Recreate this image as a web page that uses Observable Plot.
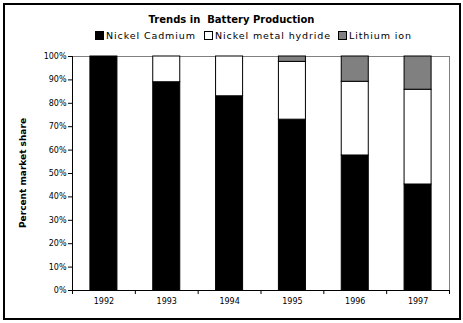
<!DOCTYPE html>
<html><head><meta charset="utf-8">
<script src="https://cdn.jsdelivr.net/npm/d3@7"></script>
<script src="https://cdn.jsdelivr.net/npm/@observablehq/plot@0.6"></script>
<style>
body{margin:0;background:#fff}
#wrap{position:relative;width:463px;height:323px;overflow:hidden;font-family:"DejaVu Sans",sans-serif;color:#000}
#frame{position:absolute;left:3px;top:3px;width:454px;height:313px;border:2px solid #000;pointer-events:none}
#title{position:absolute;left:0;width:463px;top:14px;text-align:center;font-weight:bold;font-size:10px;white-space:pre}
.leg{position:absolute;top:29px;height:12px;font-size:9.5px;letter-spacing:0.9px;display:flex;align-items:center;white-space:pre}
.sw{display:inline-block;width:7px;height:7px;border:1px solid #000;margin-right:2px}
#ytitle{position:absolute;left:23px;top:173px;transform:translate(-50%,-50%) rotate(-90deg);font-weight:bold;font-size:9px;white-space:nowrap}
</style></head><body><div id="wrap"></div>
<script>
const years = [1992, 1993, 1994, 1995, 1996, 1997];
const seriesNames = ["Nickel Cadmium", "Nickel metal hydride", "Lithium ion"];
const nickelCadmium = [100, 89, 83, 73, 57.7, 45.3];
const nickelMetalHydride = [0, 11, 17, 24.7, 31.5, 40.5];
const lithiumIon = [0, 0, 0, 2.3, 10.8, 14.2];
const seriesColors = ["#000000", "#ffffff", "#808080"];
const yTicks = [0, 10, 20, 30, 40, 50, 60, 70, 80, 90, 100];
const titleText = "Trends in  Battery Production";
const yTitle = "Percent market share";

const seriesArrays = [nickelCadmium, nickelMetalHydride, lithiumIon];
const rows = [];
years.forEach((yr, i) => seriesArrays.forEach((arr, j) => {
  if (arr[i] > 0) rows.push({year: yr, type: seriesNames[j], value: arr[i]});
}));
const boundaries = [...years.map(y => y - 0.5), years[years.length - 1] + 0.5];
const half = 0.215;

const chart = Plot.plot({
  width: 463, height: 323,
  marginLeft: 72, marginRight: 14, marginTop: 56, marginBottom: 33,
  style: {fontFamily: "DejaVu Sans", fontSize: "8px", background: "transparent", color: "#000"},
  x: {domain: [boundaries[0], boundaries[boundaries.length - 1]]},
  y: {domain: [0, 100]},
  color: {domain: seriesNames, range: seriesColors},
  marks: [
    Plot.ruleY([100], {stroke: "#808080"}),
    Plot.ruleX([boundaries[boundaries.length - 1]], {stroke: "#808080"}),
    Plot.rectY(rows, {x1: d => d.year - half, x2: d => d.year + half, y: "value", fill: "type", stroke: "#000", strokeWidth: 1}),
    Plot.ruleY([0], {stroke: "#000"}),
    Plot.ruleX([boundaries[0]], {stroke: "#000"}),
    Plot.axisY({ticks: yTicks, tickFormat: d => d + "%", tickSize: 4, tickPadding: 2, label: null}),
    Plot.axisX({ticks: boundaries, tickFormat: () => "", tickSize: 4, label: null}),
    Plot.axisX({ticks: years, tickFormat: d => String(d), tickSize: 0, tickPadding: 8, label: null})
  ]
});

const wrap = document.getElementById("wrap");
chart.style.position = "absolute"; chart.style.left = "0"; chart.style.top = "0";
wrap.appendChild(chart);

const t = document.createElement("div"); t.id = "title"; t.textContent = titleText; wrap.appendChild(t);
const legendLefts = [95, 204, 338];
seriesNames.forEach((n, i) => {
  const d = document.createElement("div"); d.className = "leg"; d.style.left = legendLefts[i] + "px";
  const s = document.createElement("span"); s.className = "sw"; s.style.background = seriesColors[i];
  d.appendChild(s); d.appendChild(document.createTextNode(n)); wrap.appendChild(d);
});
const yt = document.createElement("div"); yt.id = "ytitle"; yt.textContent = yTitle; wrap.appendChild(yt);
const f = document.createElement("div"); f.id = "frame"; wrap.appendChild(f);
</script></body></html>
